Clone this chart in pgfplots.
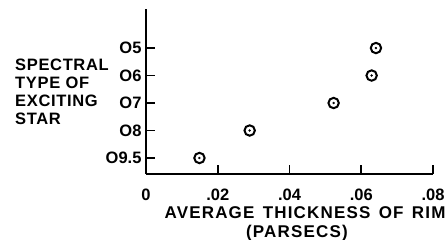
\documentclass[border=0pt]{standalone}
\usepackage{pgfplots}
\pgfplotsset{compat=1.18}
\usepackage{fontspec}
\setmainfont{Liberation Sans}
\newfontfamily\widefont[LetterSpace=7, WordSpace=1.4]{Liberation Sans}
\newfontfamily\midfont[LetterSpace=4]{Liberation Sans}
\pgfplotstableread{
x y
0.0149 1
0.0289 2
0.0523 3
0.0629 4
0.0641 5
}\stars
\begin{document}
\begin{tikzpicture}[font=\fontsize{16}{18}\selectfont\bfseries]
\useasboundingbox (0pt,0pt) rectangle (447pt,240pt);
\begin{axis}[
  at={(146pt,66pt)}, anchor=south west,
  scale only axis, width=287pt, height=165pt,
  xmin=0, xmax=0.08, ymin=0.418, ymax=6.42,
  axis x line*=bottom, axis y line*=left,
  axis line style={-, line width=1.8pt},
  scaled x ticks=false,
  xtick={0,0.02,0.04,0.06,0.08},
  xticklabels={0,.02,.04,.06,.08},
  ytick={1,2,3,4,5},
  yticklabels={O9.5,O8,O7,O6,O5},
  tick align=inside, major tick length=9pt,
  tick style={line width=1.8pt, black},
  xticklabel style={yshift=-11pt},
  yticklabel style={xshift=-1pt},
  every tick label/.append style={font=\fontsize{16.5}{18}\selectfont\bfseries},
]
\addplot[only marks, mark=o, mark size=5.2pt, line width=2pt] table {\stars};
\addplot[only marks, mark=*, mark size=1pt] table {\stars};
\end{axis}
\node[anchor=west, align=left, inner sep=0pt, font=\midfont\fontsize{16.5}{18}\selectfont\bfseries] at (15pt,148.5pt) {SPECTRAL\\TYPE OF\\EXCITING\\STAR};
\node[inner sep=0pt, font=\widefont\fontsize{17}{20}\selectfont\bfseries] at (305pt,27pt) {AVERAGE THICKNESS OF RIM};
\node[inner sep=0pt, font=\widefont\fontsize{17}{20}\selectfont\bfseries] at (297pt,7pt) {(PARSECS)};
\end{tikzpicture}
\end{document}
